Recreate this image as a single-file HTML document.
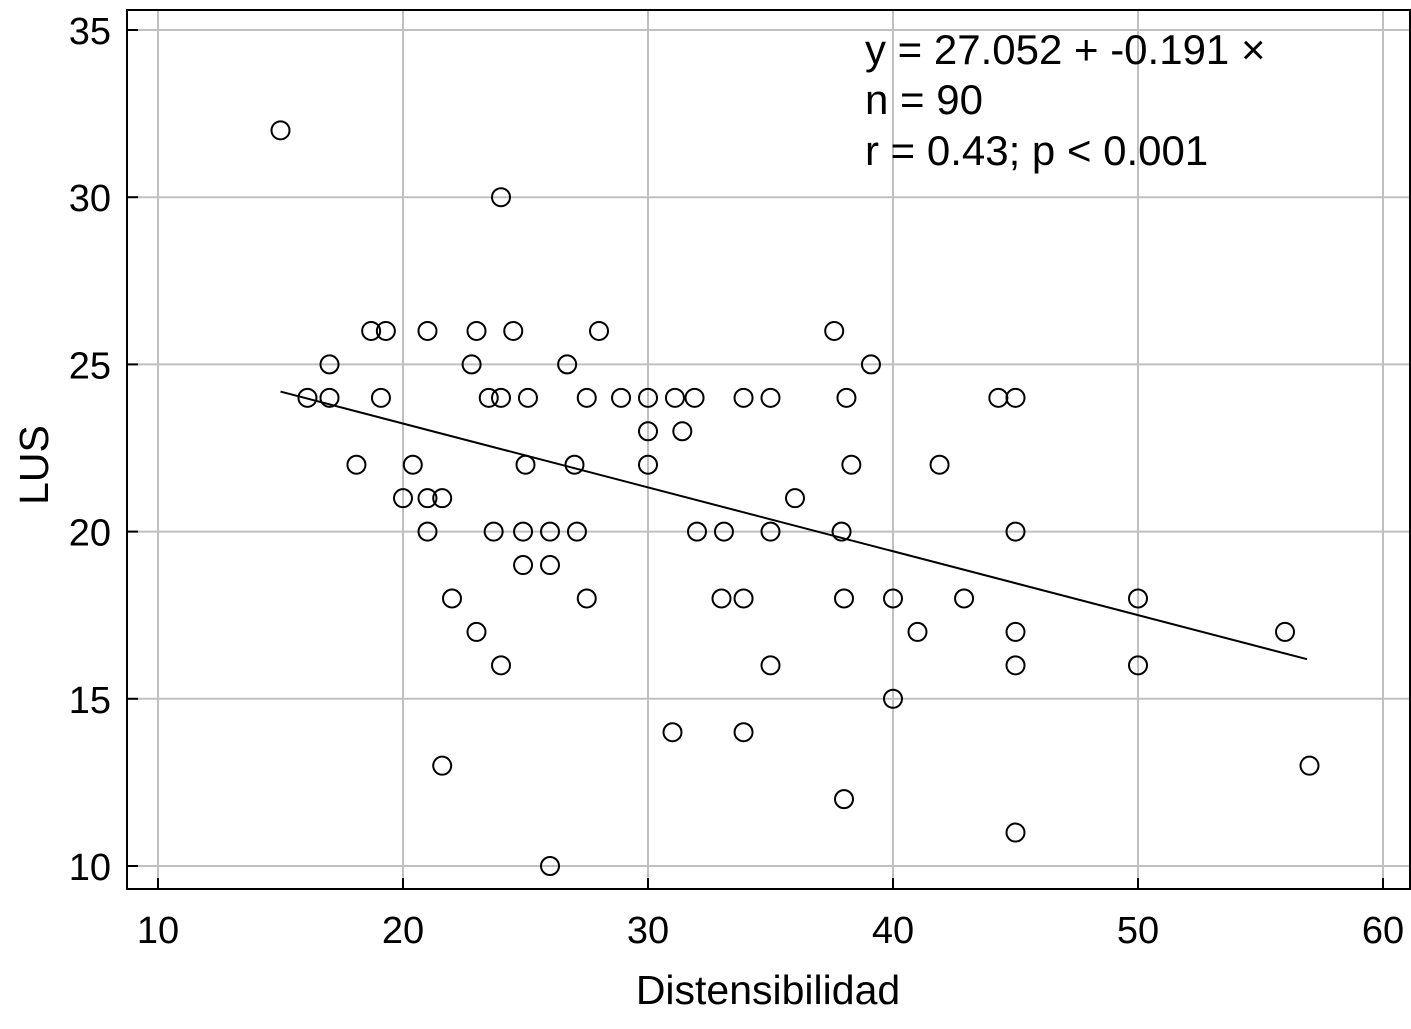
<!DOCTYPE html>
<html><head><meta charset="utf-8"><style>
body{margin:0;background:#fff}
svg text{font-family:"Liberation Sans",Arial,sans-serif;fill:#000}
</style></head><body>
<svg id="chart" width="1411" height="1024">
<rect x="127" y="10" width="1283" height="879" fill="#fff"/>
<g id="grid"></g>
<g id="ticks"></g>
<line id="fit" stroke="#000" stroke-width="2"/>
<g id="points"></g>
<rect x="127" y="10" width="1283" height="879" fill="none" stroke="#000" stroke-width="2"/>
<text x="768" y="1004" font-size="41" text-anchor="middle">Distensibilidad</text>
<text transform="translate(48,465) rotate(-90)" font-size="41" text-anchor="middle">LUS</text>
<g font-size="42">
<text x="865" y="64">y = 27.052 + -0.191 ×</text>
<text x="865" y="114">n = 90</text>
<text x="865" y="165">r = 0.43; p &lt; 0.001</text>
</g>
</svg>
<script>
const xTicks=[10,20,30,40,50,60];
const yTicks=[10,15,20,25,30,35];
const xs=[15,24,18.7,19.3,21,23,24.5,28,37.6,17,22.8,26.7,39.1,16.1,17,19.1,23.5,24,25.1,27.5,28.9,30,31.1,31.9,33.9,35,38.1,44.3,45,30,31.4,18.1,20.4,25,27,30,38.3,41.9,20,21,21.6,36,21,23.7,24.9,26,27.1,32,33.1,35,37.9,45,24.9,26,22,27.5,33,33.9,38,40,42.9,50,23,41,45,56,24,35,45,50,40,31,33.9,21.6,57,38,45,26];
const ys=[32,30,26,26,26,26,26,26,26,25,25,25,25,24,24,24,24,24,24,24,24,24,24,24,24,24,24,24,24,23,23,22,22,22,22,22,22,22,21,21,21,21,20,20,20,20,20,20,20,20,20,20,19,19,18,18,18,18,18,18,18,18,17,17,17,17,16,16,16,16,15,14,14,13,13,12,11,10];
const intercept=27.052, slope=-0.191, fitX=[15,56.9];
const X=v=>158+(v-10)*24.5, Y=v=>866-(v-10)*33.44;
const ns="http://www.w3.org/2000/svg";
function mk(p,t,a){const e=document.createElementNS(ns,t);for(const k in a)e.setAttribute(k,a[k]);p.appendChild(e);return e;}
const g=document.getElementById('grid'),tk=document.getElementById('ticks'),pts=document.getElementById('points');
xTicks.forEach(v=>{
 const l=mk(g,'line',{x1:X(v),x2:X(v),y1:10,y2:889,stroke:'#c0c0c0','stroke-width':2});
 
 
 mk(tk,'line',{x1:X(v),x2:X(v),y1:889,y2:878,stroke:'#000','stroke-width':2});
 const t=mk(tk,'text',{x:X(v),y:943,'font-size':38,'text-anchor':'middle'});t.textContent=v;
 
 
});
yTicks.forEach(v=>{
 const l=mk(g,'line',{x1:127,x2:1410,y1:Y(v),y2:Y(v),stroke:'#c0c0c0','stroke-width':2});
 
 
 mk(tk,'line',{x1:127,x2:138,y1:Y(v),y2:Y(v),stroke:'#000','stroke-width':2});
 const t=mk(tk,'text',{x:111,y:Y(v)+14,'font-size':38,'text-anchor':'end'});t.textContent=v;
 
 
});
xs.forEach((v,i)=>{
 const c=mk(pts,'circle',{cx:X(v),cy:Y(ys[i]),r:9,fill:'none',stroke:'#000','stroke-width':2});
 
 
});
const f=document.getElementById('fit');
f.setAttribute('x1',X(fitX[0]));f.setAttribute('y1',Y(intercept+slope*fitX[0]));
f.setAttribute('x2',X(fitX[1]));f.setAttribute('y2',Y(intercept+slope*fitX[1]));
</script>
</body></html>
